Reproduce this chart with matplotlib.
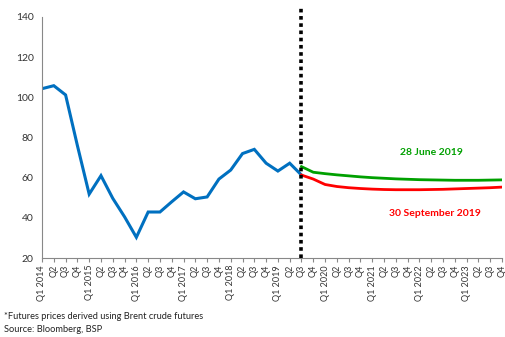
import matplotlib
matplotlib.use("Agg")
import matplotlib.pyplot as plt

years = list(range(2014, 2024))
quarters = [f"Q{q} {y}" if q == 1 else f"Q{q}" for y in years for q in range(1, 5)]

actual = [104.3, 105.8, 101.2, 76.0, 51.8, 61.0, 49.7, 40.5,
          30.3, 42.9, 42.9, 48.0, 52.9, 49.5, 50.4, 59.3,
          63.8, 72.0, 74.1, 67.2, 63.3, 67.2, 61.3]

futures_jun = [65.5, 62.7, 62.0, 61.4, 60.9, 60.4, 60.0, 59.7, 59.4,
               59.2, 59.0, 58.9, 58.8, 58.7, 58.7, 58.7, 58.8, 58.9]
futures_sep = [61.3, 59.3, 56.6, 55.6, 55.0, 54.6, 54.3, 54.1, 54.0,
               54.0, 54.0, 54.1, 54.2, 54.4, 54.6, 54.8, 55.0, 55.3]

start = len(actual) - 1
x_actual = list(range(len(actual)))
x_fut = list(range(start, start + len(futures_jun)))

plt.rcParams['font.family'] = ['Lato', 'DejaVu Sans']

fig = plt.figure(figsize=(5.06, 3.37), dpi=100)
ax = fig.add_axes([42/506, 1 - 258/337, 460/506, 241/337])

ax.plot(x_actual, actual, color="#0070C0", lw=2.2, solid_joinstyle="miter")
ax.plot(x_fut, futures_jun, color="#00A000", lw=2.0)
ax.plot(x_fut, futures_sep, color="#FF0000", lw=2.0)

ax.plot([start, start], [0, 1.037], transform=ax.get_xaxis_transform(),
        color="black", lw=2.6, linestyle=(0, (1, 1)), clip_on=False, zorder=5)

ax.text(33.0, 72.5, "28 June 2019", color="#00A000", fontsize=7.5,
        fontweight="bold", ha="center", va="center")
ax.text(33.3, 42.0, "30 September 2019", color="#FF0000", fontsize=7.5,
        fontweight="bold", ha="center", va="center")

ax.set_xlim(0, len(quarters) - 1)
ax.set_ylim(20, 140)
ax.set_yticks(range(20, 141, 20))
ax.set_xticks(range(len(quarters)))
ax.set_xticklabels(quarters, rotation=90, fontsize=6.5, color="#333333")
ax.tick_params(axis="y", labelsize=7.5, colors="#333333", length=0, pad=6)
ax.tick_params(axis="x", length=3, color="#888888", pad=2)

for side in ("top", "right"):
    ax.spines[side].set_visible(False)
ax.spines["left"].set_color("#888888")
ax.spines["bottom"].set_color("#888888")
ax.spines["left"].set_linewidth(0.8)
ax.spines["bottom"].set_linewidth(0.8)

fig.text(4/506, 1 - 316.5/337, "*Futures prices derived using Brent crude futures",
         fontsize=6.7, color="#222222", va="center")
fig.text(4/506, 1 - 329.5/337, "Source: Bloomberg, BSP",
         fontsize=6.7, color="#222222", va="center")

fig.savefig("out.png", dpi=100)
